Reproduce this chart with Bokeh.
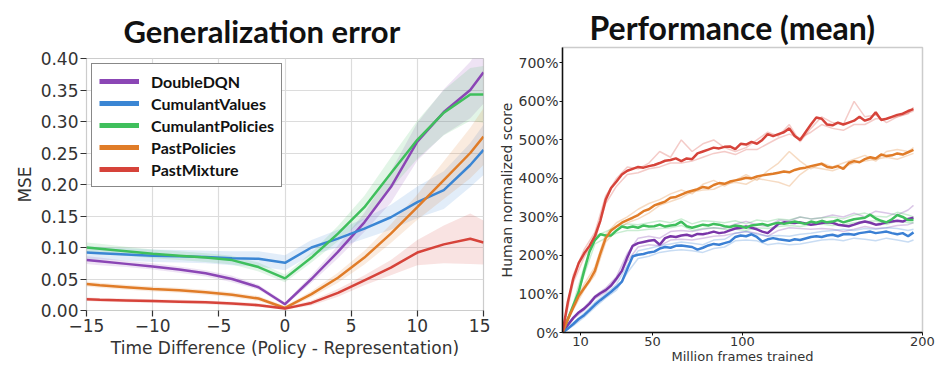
from bokeh.plotting import figure
from bokeh.layouts import row, column
from bokeh.models import Range1d, FixedTicker, PrintfTickFormatter, Legend, LegendItem
from bokeh.embed import file_html
from bokeh.resources import INLINE

# ---------------- Left chart: Generalization error ----------------
time_diff = [-15, -14, -12, -10, -8, -6, -4, -2, 0, 2, 4, 6, 8, 10, 12, 14, 15]
series_names = ["DoubleDQN", "CumulantValues", "CumulantPolicies", "PastPolicies", "PastMixture"]
colors = ["#8b46b5", "#3b86d4", "#3fbf5c", "#e07c28", "#d6433a"]

mse_double_dqn = [0.080, 0.078, 0.074, 0.070, 0.065, 0.059, 0.050, 0.037, 0.010, 0.050, 0.093, 0.140, 0.196, 0.268, 0.315, 0.350, 0.378]
mse_cum_values = [0.092, 0.091, 0.089, 0.087, 0.086, 0.085, 0.083, 0.082, 0.0757, 0.100, 0.114, 0.130, 0.148, 0.172, 0.191, 0.231, 0.255]
mse_cum_policies = [0.100, 0.098, 0.094, 0.090, 0.087, 0.084, 0.080, 0.069, 0.051, 0.084, 0.122, 0.164, 0.218, 0.271, 0.314, 0.343, 0.343]
mse_past_policies = [0.042, 0.040, 0.037, 0.034, 0.032, 0.029, 0.025, 0.019, 0.004, 0.026, 0.052, 0.084, 0.122, 0.164, 0.207, 0.250, 0.276]
mse_past_mixture = [0.018, 0.017, 0.016, 0.015, 0.014, 0.013, 0.011, 0.0085, 0.003, 0.012, 0.028, 0.048, 0.068, 0.092, 0.105, 0.114, 0.108]

spread_double_dqn = [0.006, 0.006, 0.005, 0.005, 0.005, 0.005, 0.005, 0.004, 0.003, 0.006, 0.010, 0.015, 0.025, 0.030, 0.036, 0.045, 0.050]
spread_cum_values = [0.010, 0.010, 0.010, 0.010, 0.010, 0.010, 0.011, 0.012, 0.012, 0.012, 0.014, 0.016, 0.020, 0.025, 0.030, 0.035, 0.040]
spread_cum_policies = [0.008, 0.008, 0.007, 0.007, 0.007, 0.007, 0.007, 0.007, 0.006, 0.008, 0.012, 0.018, 0.025, 0.030, 0.036, 0.042, 0.045]
spread_past_policies = [0.004, 0.004, 0.004, 0.004, 0.004, 0.004, 0.004, 0.004, 0.003, 0.005, 0.008, 0.011, 0.015, 0.020, 0.030, 0.040, 0.045]
spread_past_mixture = [0.003, 0.003, 0.003, 0.003, 0.003, 0.003, 0.003, 0.003, 0.002, 0.004, 0.006, 0.008, 0.012, 0.020, 0.030, 0.040, 0.035]

left_means = [mse_double_dqn, mse_cum_values, mse_cum_policies, mse_past_policies, mse_past_mixture]
left_spreads = [spread_double_dqn, spread_cum_values, spread_cum_policies, spread_past_policies, spread_past_mixture]

left_xticks = [-15, -10, -5, 0, 5, 10, 15]
left_yticks = [0.0, 0.05, 0.10, 0.15, 0.20, 0.25, 0.30, 0.35, 0.40]

# ---------------- Right chart: Performance (mean) ----------------
frames = [0, 3, 6, 9, 12, 15, 18, 21, 24, 27, 30, 33, 36, 39, 42, 45, 48, 51, 54, 57, 60, 63, 66, 69, 72, 75,
          78, 81, 84, 87, 90, 93, 96, 99, 102, 105, 108, 111, 114, 117, 120, 123, 126, 129, 132, 135, 138, 141,
          144, 147, 150, 153, 156, 159, 162, 165, 168, 171, 174, 177, 180, 183, 186, 189, 192, 195]

perf_past_mixture = [0, 80, 140, 180, 205, 225, 250, 290, 345, 375, 392, 410, 420, 425, 430, 428, 432, 435, 440, 446,
                     448, 452, 445, 452, 450, 465, 470, 475, 480, 478, 482, 483, 476, 490, 488, 495, 490, 500, 515, 510,
                     515, 520, 530, 510, 500, 520, 540, 558, 555, 540, 538, 545, 540, 545, 550, 560, 550, 555, 572, 552,
                     555, 560, 565, 568, 575, 580]
perf_past_policies = [0, 35, 65, 95, 115, 135, 160, 205, 245, 265, 275, 285, 292, 298, 305, 315, 320, 330, 335, 340,
                      350, 352, 358, 364, 368, 372, 378, 375, 383, 388, 386, 392, 395, 398, 402, 400, 405, 408, 410, 412,
                      415, 418, 416, 422, 426, 428, 432, 435, 438, 430, 428, 432, 425, 440, 445, 442, 450, 455, 452, 462,
                      458, 460, 465, 462, 468, 474]
perf_cum_policies = [0, 35, 70, 105, 160, 210, 240, 255, 252, 252, 265, 275, 272, 275, 272, 278, 275, 276, 280, 275,
                     278, 280, 288, 276, 272, 276, 280, 278, 282, 280, 276, 274, 278, 276, 272, 278, 280, 282, 278, 282,
                     285, 282, 285, 288, 285, 282, 288, 285, 290, 286, 288, 292, 286, 290, 294, 296, 298, 306, 296, 290,
                     286, 294, 305, 300, 292, 292]
perf_double_dqn = [0, 20, 38, 52, 62, 75, 92, 102, 110, 122, 140, 160, 195, 225, 232, 235, 238, 240, 228, 245,
                   250, 248, 252, 254, 250, 256, 255, 258, 262, 258, 260, 265, 270, 272, 275, 272, 268, 262, 258, 270,
                   282, 286, 285, 284, 286, 283, 280, 282, 284, 286, 285, 280, 278, 276, 280, 285, 288, 285, 280, 282,
                   286, 288, 290, 288, 295, 298]
perf_cum_values = [0, 10, 22, 35, 45, 58, 72, 84, 95, 106, 118, 132, 165, 198, 202, 204, 208, 210, 218, 222,
                   220, 225, 226, 224, 222, 215, 220, 226, 230, 228, 232, 236, 248, 252, 250, 255, 248, 236, 242, 245,
                   242, 240, 238, 242, 240, 244, 248, 250, 248, 252, 254, 250, 255, 256, 254, 258, 260, 262, 258, 260,
                   262, 258, 255, 258, 250, 260]

seed_frames = [0, 6, 12, 18, 24, 30, 36, 42, 48, 54, 60, 66, 72, 78, 84, 90, 96, 102, 108, 114, 120, 126, 132,
               138, 144, 150, 156, 162, 168, 174, 180, 186, 192, 195]

seeds_past_mixture = [
    [0, 150, 215, 260, 355, 400, 430, 425, 440, 470, 455, 500, 470, 490, 500, 480, 470, 480, 500, 520, 510, 540, 495,
     530, 560, 545, 540, 600, 560, 565, 545, 560, 570, 575],
    [0, 130, 195, 240, 335, 380, 410, 415, 425, 430, 440, 440, 445, 455, 465, 470, 462, 475, 475, 490, 505, 515, 505,
     520, 540, 530, 525, 540, 540, 555, 555, 560, 568, 585],
]
seeds_past_policies = [
    [0, 70, 125, 170, 255, 285, 300, 320, 335, 345, 360, 370, 360, 385, 395, 380, 395, 410, 395, 420, 440, 470, 445,
     425, 440, 430, 440, 450, 460, 445, 470, 475, 470, 480],
    [0, 60, 110, 150, 235, 265, 285, 295, 310, 330, 340, 350, 365, 370, 372, 385, 390, 385, 400, 395, 390, 380, 410,
     430, 425, 420, 430, 440, 445, 450, 455, 450, 460, 465],
]
seeds_cum_policies = [
    [0, 75, 170, 250, 262, 275, 282, 280, 285, 290, 285, 295, 282, 290, 288, 285, 290, 282, 292, 288, 295, 292, 300,
     295, 298, 300, 295, 305, 310, 302, 300, 312, 305, 300],
    [0, 65, 150, 230, 245, 258, 265, 265, 268, 270, 272, 278, 265, 270, 272, 268, 268, 265, 272, 270, 275, 278, 275,
     280, 282, 278, 280, 285, 288, 290, 280, 290, 285, 285],
]
seeds_double_dqn = [
    [0, 40, 65, 95, 115, 145, 205, 245, 250, 245, 262, 265, 262, 268, 272, 270, 282, 288, 280, 275, 292, 290, 300,
     295, 298, 305, 300, 310, 300, 315, 310, 305, 318, 330],
    [0, 35, 58, 88, 105, 135, 185, 222, 228, 225, 240, 242, 240, 245, 250, 252, 258, 262, 258, 250, 265, 272, 270,
     268, 270, 268, 262, 268, 275, 270, 272, 278, 280, 285],
]
seeds_cum_values = [
    [0, 25, 50, 78, 100, 125, 175, 212, 218, 225, 230, 235, 232, 228, 240, 242, 258, 262, 255, 250, 252, 250, 255,
     258, 262, 265, 268, 265, 270, 268, 272, 270, 265, 268],
    [0, 18, 40, 66, 90, 110, 155, 192, 198, 208, 212, 215, 212, 208, 218, 222, 238, 240, 238, 228, 232, 228, 230,
     235, 240, 242, 238, 245, 242, 238, 245, 240, 235, 240],
]

right_means = [perf_double_dqn, perf_cum_values, perf_cum_policies, perf_past_policies, perf_past_mixture]
right_seeds = [seeds_double_dqn, seeds_cum_values, seeds_cum_policies, seeds_past_policies, seeds_past_mixture]
right_colors = ["#7a36a8", "#3b80d4", "#3fbf5c", "#e07c28", "#d6433a"]

right_xticks = [10, 50, 100, 200]
right_yticks = [0, 100, 200, 300, 400, 500, 600, 700]

left_title = "Generalization error"
right_title = "Performance (mean)"

TICK_FONT = "DejaVu Sans"
TEXT_COLOR = "#333333"
H = 366

# ---------------- Build left figure ----------------
p1 = figure(width=490, height=H, output_backend="svg", toolbar_location=None,
            x_range=Range1d(-15, 15), y_range=Range1d(0, 0.40),
            min_border_left=86, min_border_right=7, min_border_top=10, min_border_bottom=H - 310)
p1.title.text = left_title
p1.title.align = "left"
p1.title.offset = 37
p1.title.text_font = "Lato"
p1.title.text_font_style = "bold"
p1.title.text_font_size = "31px"
p1.title.text_color = "#111111"
p1.title.standoff = 18

for mean, spread, col in zip(left_means, left_spreads, colors):
    lo = [m - s for m, s in zip(mean, spread)]
    hi = [m + s for m, s in zip(mean, spread)]
    p1.varea(x=time_diff, y1=lo, y2=hi, fill_color=col, fill_alpha=0.15)

for mean, col in zip(left_means, colors):
    p1.line(time_diff, mean, line_color=col, line_width=2.5)

legend_items = []
for name, col in zip(series_names, colors):
    r = p1.line(x=[float("nan")], y=[float("nan")], line_color=col, line_width=5)
    legend_items.append(LegendItem(label=name, renderers=[r]))
legend = Legend(items=legend_items, location="top_left")
legend.label_text_font = "Lato"
legend.label_text_font_style = "bold"
legend.label_text_font_size = "16px"
legend.label_text_color = "#111111"
legend.border_line_color = "#111111"
legend.border_line_width = 1.5
legend.background_fill_alpha = 1.0
legend.glyph_width = 40
legend.glyph_height = 20
legend.label_standoff = 12
legend.spacing = 2
legend.padding = 7
legend.margin = 5
p1.add_layout(legend)

p1.xaxis.ticker = FixedTicker(ticks=left_xticks)
p1.xaxis.major_label_overrides = {t: (str(t).replace("-", "\u2212")) for t in left_xticks}
p1.yaxis.ticker = FixedTicker(ticks=left_yticks)
p1.yaxis.formatter = PrintfTickFormatter(format="%.2f")
p1.xaxis.axis_label = "Time Difference (Policy - Representation)"
p1.yaxis.axis_label = "MSE"
for ax in (p1.xaxis, p1.yaxis):
    ax.axis_line_color = None
    ax.major_tick_line_color = TEXT_COLOR
    ax.major_tick_line_width = 1.2
    ax.major_tick_out = 6
    ax.major_tick_in = 0
    ax.minor_tick_line_color = None
    ax.major_label_text_font = TICK_FONT
    ax.major_label_text_font_size = "17px"
    ax.major_label_text_color = TEXT_COLOR
    ax.axis_label_text_font = TICK_FONT
    ax.axis_label_text_font_size = "17px"
    ax.axis_label_text_font_style = "normal"
    ax.axis_label_text_color = TEXT_COLOR
    ax.major_label_standoff = 2
    ax.axis_label_standoff = 3
p1.xgrid.ticker = FixedTicker(ticks=left_xticks)
p1.ygrid.ticker = FixedTicker(ticks=left_yticks)
p1.grid.grid_line_color = "#dcdcdc"
p1.grid.grid_line_width = 1.2
p1.outline_line_color = "#cccccc"
p1.outline_line_width = 1.2

# ---------------- Build right figure ----------------
p2 = figure(width=445, height=H, output_backend="svg", toolbar_location=None,
            x_range=Range1d(0, 200), y_range=Range1d(0, 740),
            min_border_left=72, min_border_right=13, min_border_top=47, min_border_bottom=H - 333)
p2.title.text = right_title
p2.title.align = "left"
p2.title.offset = 27
p2.title.text_font = "Lato"
p2.title.text_font_style = "bold"
p2.title.text_font_size = "32px"
p2.title.text_color = "#111111"
p2.title.standoff = 2

for seeds, col in zip(right_seeds, right_colors):
    for s in seeds:
        p2.line(seed_frames, s, line_color=col, line_width=1.5, line_alpha=0.28)
for mean, col in zip(right_means, right_colors):
    p2.line(frames, mean, line_color=col, line_width=2.5)

p2.xaxis.ticker = FixedTicker(ticks=right_xticks)
p2.yaxis.ticker = FixedTicker(ticks=right_yticks)
p2.yaxis.formatter = PrintfTickFormatter(format="%d%%")
p2.xaxis.axis_label = "Million frames trained"
p2.yaxis.axis_label = "Human normalized score"
for ax in (p2.xaxis, p2.yaxis):
    ax.axis_line_color = "#111111"
    ax.axis_line_width = 1.5
    ax.major_tick_line_color = "#111111"
    ax.major_tick_out = 3
    ax.major_tick_in = 0
    ax.minor_tick_line_color = None
    ax.major_label_text_font = TICK_FONT
    ax.major_label_text_font_size = "14px"
    ax.major_label_text_color = TEXT_COLOR
    ax.axis_label_text_font = TICK_FONT
    ax.axis_label_text_font_size = "14px"
    ax.axis_label_text_font_style = "normal"
    ax.axis_label_text_color = TEXT_COLOR
    ax.major_label_standoff = 1
    ax.axis_label_standoff = 0
p2.xaxis.major_label_text_font_size = "13px"
p2.xaxis.axis_label_text_font_size = "13px"
p2.grid.grid_line_color = None
p2.outline_line_color = "#cccccc"
p2.outline_line_width = 1.5

layout = row(column(p1), column(p2))
open("out.html", "w").write(file_html(layout, INLINE))
